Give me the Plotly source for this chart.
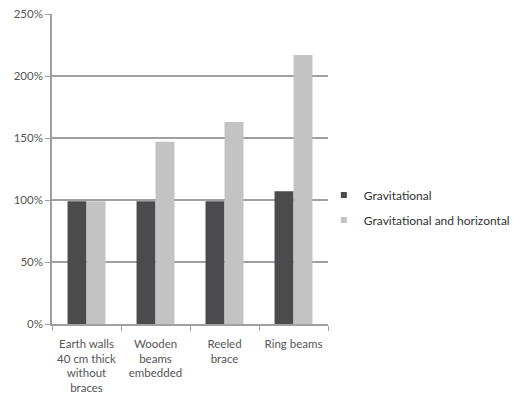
import plotly.graph_objects as go

categories = [
    "Earth walls<br>40 cm thick<br>without<br>braces",
    "Wooden<br>beams<br>embedded",
    "Reeled<br>brace",
    "Ring beams",
]
gravitational = [99, 99, 99, 107]
grav_horizontal = [99, 147, 163, 217]
y_ticks = [0, 50, 100, 150, 200, 250]
y_tick_labels = [f"{v}%" for v in y_ticks]

series_names = ["Gravitational", "Gravitational and horizontal"]
series_colors = ["#4b4b4d", "#c3c3c3"]

font_family = "Lato, Open Sans, sans-serif"
text_color = "#555555"

fig = go.Figure()
for name, values, color in zip(series_names, [gravitational, grav_horizontal], series_colors):
    fig.add_trace(go.Bar(
        name=name, x=categories, y=values, showlegend=False,
        marker=dict(color=color, line=dict(width=0)),
    ))
# small square legend keys
for i, (name, color) in enumerate(zip(series_names, series_colors)):
    fig.add_trace(go.Scatter(
        name=name, x=[categories[0]], y=[None], mode="markers",
        marker=dict(symbol="square", size=6, color=color),
        legendgroup=f"g{i}", showlegend=True, hoverinfo="skip",
    ))

fig.update_layout(
    width=516, height=398,
    margin=dict(l=52, r=188, t=14, b=74, autoexpand=False),
    paper_bgcolor="white", plot_bgcolor="white",
    barmode="group", bargap=0.45, bargroupgap=0,
    font=dict(family=font_family, size=11, color=text_color),
    showlegend=True,
    legend=dict(
        x=0.985, y=0.376, xanchor="left", yanchor="middle",
        font=dict(size=12, color="#333333"),
        tracegroupgap=6, itemwidth=30,
        bgcolor="rgba(0,0,0,0)",
    ),
)
fig.update_xaxes(
    showline=True, linecolor="#a0a0a0", linewidth=1.5,
    ticks="outside", tickson="boundaries", ticklen=5, tickcolor="#a0a0a0",
    showgrid=False, tickangle=0, automargin=False, ticklabelstandoff=8,
    tickfont=dict(size=11.5, color=text_color),
)
fig.update_yaxes(
    range=[0, 250], tickvals=y_ticks, ticktext=y_tick_labels,
    showline=True, linecolor="#a0a0a0", linewidth=1.5,
    ticks="outside", ticklen=5, tickcolor="#a0a0a0",
    showgrid=True, gridcolor="#a0a0a0", gridwidth=1.5,
    zeroline=False, automargin=False,
    tickfont=dict(size=11.5, color=text_color),
)

fig.write_html("out.html")
